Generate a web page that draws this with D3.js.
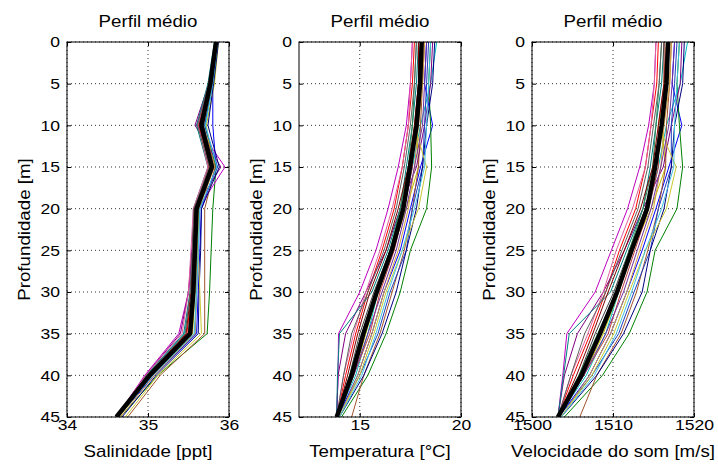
<!DOCTYPE html>
<html>
<head>
<meta charset="utf-8">
<script src="https://cdn.jsdelivr.net/npm/d3@7"></script>
<style>
  body { margin: 0; background: #fff; }
  svg { display: block; }
</style>
</head>
<body>
<div id="chart"></div>
<script>
// Depth levels (m) shared by every profile
const depths = [0, 5, 10, 15, 20, 25, 30, 35, 40, 45];
const depthTicks = [0, 5, 10, 15, 20, 25, 30, 35, 40, 45];

// Mean profiles (thick black line)
const meanSal = [35.84, 35.77, 35.66, 35.79, 35.60, 35.58, 35.56, 35.52, 35.02, 34.61];
const meanTemp = [18.06, 17.98, 17.81, 17.48, 17.15, 16.58, 15.84, 15.18, 14.60, 13.86];
const meanSound = [1516.8, 1516.6, 1516.0, 1515.2, 1514.2, 1512.3, 1510.5, 1508.4, 1506.1, 1503.2];

// one colour per measured profile
const profileColors = [
    "#0000ff", "#008000", "#ff0000", "#00bfbf", "#bf00bf", "#bfbf00", "#404040",
    "#a0522d", "#800080", "#008080", "#1f3fbf", "#2e8b57", "#c04040", "#d2a040",
    "#e060a0", "#000080", "#c8c832", "#800000", "#7030a0", "#40c0e0", "#606060"
];

// Salinity [ppt] per profile
const salProfiles = [
    [35.85, 35.80, 35.80, 35.84, 35.66, 35.64, 35.62, 35.60, 35.08, 34.63],
    [35.86, 35.80, 35.70, 35.84, 35.80, 35.78, 35.76, 35.73, 35.12, 34.66],
    [35.83, 35.75, 35.62, 35.75, 35.58, 35.56, 35.54, 35.48, 35.00, 34.61],
    [35.84, 35.77, 35.64, 35.78, 35.60, 35.57, 35.54, 35.45, 34.98, 34.61],
    [35.84, 35.76, 35.60, 35.95, 35.62, 35.55, 35.50, 35.38, 34.96, 34.61],
    [35.87, 35.82, 35.72, 35.80, 35.62, 35.60, 35.58, 35.55, 35.05, 34.64],
    [35.84, 35.77, 35.66, 35.78, 35.59, 35.57, 35.55, 35.52, 35.02, 34.61],
    [35.85, 35.79, 35.68, 35.83, 35.70, 35.70, 35.70, 35.70, 35.15, 34.75],
    [35.83, 35.75, 35.58, 35.90, 35.58, 35.54, 35.50, 35.40, 34.97, 34.61],
    [35.82, 35.74, 35.60, 35.74, 35.56, 35.55, 35.52, 35.44, 34.98, 34.61],
    [35.86, 35.80, 35.70, 35.86, 35.64, 35.62, 35.60, 35.58, 35.06, 34.62],
    [35.84, 35.76, 35.64, 35.76, 35.58, 35.56, 35.54, 35.50, 35.00, 34.61],
    [35.85, 35.78, 35.66, 35.80, 35.61, 35.59, 35.57, 35.54, 35.04, 34.62],
    [35.86, 35.79, 35.68, 35.82, 35.63, 35.61, 35.60, 35.58, 35.08, 34.66],
    [35.83, 35.75, 35.62, 35.74, 35.56, 35.53, 35.50, 35.42, 34.97, 34.61],
    [35.87, 35.81, 35.74, 35.88, 35.66, 35.65, 35.63, 35.62, 35.10, 34.68],
    [35.85, 35.78, 35.67, 35.80, 35.62, 35.62, 35.64, 35.66, 35.12, 34.72],
    [35.84, 35.76, 35.63, 35.77, 35.57, 35.55, 35.53, 35.47, 34.99, 34.61],
    [35.85, 35.78, 35.68, 35.81, 35.60, 35.58, 35.56, 35.53, 35.03, 34.62],
    [35.86, 35.80, 35.71, 35.85, 35.64, 35.62, 35.60, 35.57, 35.06, 34.63],
    [35.83, 35.75, 35.61, 35.76, 35.57, 35.55, 35.52, 35.46, 34.99, 34.61]
];

// Temperature [°C] per profile
const tempProfiles = [
    [18.3, 18.2, 18.6, 18.0, 17.5, 17.0, 16.2, 15.6, 14.9, 13.9],
    [18.5, 18.4, 18.5, 18.55, 18.3, 17.5, 17.0, 16.3, 15.4, 14.1],
    [17.7, 17.6, 17.4, 17.1, 16.7, 16.1, 15.4, 14.8, 14.3, 13.86],
    [18.8, 18.5, 18.0, 17.6, 17.2, 16.6, 15.9, 15.4, 14.8, 13.86],
    [17.6, 17.5, 17.3, 16.9, 16.4, 15.8, 15.0, 13.95, 13.93, 13.86],
    [18.0, 17.9, 17.8, 17.9, 17.3, 16.6, 15.9, 15.3, 14.7, 13.9],
    [18.1, 18.0, 17.8, 17.5, 17.1, 16.5, 15.7, 15.0, 14.5, 13.86],
    [18.2, 18.1, 18.0, 17.9, 17.6, 17.2, 16.6, 16.0, 15.2, 14.6],
    [18.6, 18.5, 18.2, 17.8, 17.0, 16.3, 15.3, 14.3, 13.93, 13.86],
    [17.9, 17.8, 17.6, 17.3, 17.0, 16.4, 15.6, 14.0, 13.9, 13.86],
    [18.4, 18.3, 18.2, 18.1, 17.6, 17.3, 16.5, 15.9, 15.0, 13.9],
    [17.8, 17.7, 17.6, 17.4, 17.0, 16.5, 15.8, 15.1, 14.5, 13.86],
    [18.0, 17.9, 17.7, 17.6, 17.2, 16.7, 16.0, 15.5, 14.7, 13.9],
    [18.2, 18.1, 17.9, 17.7, 17.4, 16.9, 16.2, 15.6, 14.9, 14.0],
    [17.6, 17.5, 17.4, 17.1, 16.6, 16.0, 15.3, 14.7, 14.2, 13.86],
    [18.7, 18.6, 18.3, 18.1, 17.8, 17.3, 16.8, 16.1, 15.2, 14.0],
    [18.1, 18.0, 17.7, 18.3, 17.9, 17.1, 16.3, 15.7, 15.0, 14.0],
    [17.9, 17.9, 17.7, 17.4, 16.9, 16.3, 15.5, 14.9, 14.4, 13.86],
    [18.3, 18.2, 18.1, 17.7, 17.3, 16.8, 16.1, 15.4, 14.7, 13.9],
    [18.5, 18.4, 18.3, 18.2, 17.7, 17.1, 16.4, 15.8, 15.1, 14.0],
    [17.8, 17.7, 17.5, 17.2, 16.8, 16.2, 15.4, 14.6, 14.2, 13.86]
];

// Sound speed [m/s] per profile
const soundProfiles = [
    [1517.6, 1517.3, 1518.5, 1516.9, 1515.3, 1513.6, 1511.7, 1509.7, 1507.1, 1503.3],
    [1518.2, 1517.9, 1518.2, 1518.6, 1517.9, 1515.2, 1514.2, 1512.0, 1508.7, 1504.0],
    [1515.6, 1515.4, 1514.7, 1514.0, 1512.8, 1510.8, 1509.1, 1507.2, 1505.1, 1503.2],
    [1519.2, 1518.3, 1516.6, 1515.6, 1514.4, 1512.4, 1510.7, 1509.1, 1506.7, 1503.2],
    [1515.3, 1515.1, 1514.4, 1513.3, 1511.8, 1509.8, 1507.8, 1504.3, 1503.8, 1503.2],
    [1516.6, 1516.3, 1516.0, 1516.5, 1514.7, 1512.4, 1510.7, 1508.8, 1506.4, 1503.3],
    [1516.9, 1516.7, 1516.0, 1515.3, 1514.0, 1512.0, 1510.1, 1507.8, 1505.8, 1503.2],
    [1517.2, 1517.0, 1516.6, 1516.5, 1515.6, 1514.3, 1512.9, 1511.0, 1508.0, 1505.9],
    [1518.5, 1518.3, 1517.2, 1516.2, 1513.7, 1511.4, 1508.8, 1505.6, 1504.0, 1503.2],
    [1516.3, 1516.0, 1515.3, 1514.6, 1513.7, 1511.7, 1509.7, 1504.6, 1503.9, 1503.2],
    [1517.9, 1517.6, 1517.2, 1517.2, 1515.6, 1514.6, 1512.6, 1510.7, 1507.4, 1503.3],
    [1516.0, 1515.7, 1515.3, 1514.9, 1513.7, 1512.0, 1510.4, 1508.1, 1505.8, 1503.2],
    [1516.6, 1516.3, 1515.6, 1515.6, 1514.4, 1512.7, 1511.0, 1509.4, 1506.4, 1503.3],
    [1517.2, 1517.0, 1516.3, 1515.9, 1515.0, 1513.3, 1511.7, 1509.7, 1507.1, 1503.6],
    [1515.3, 1515.1, 1514.7, 1514.0, 1512.4, 1510.4, 1508.8, 1506.9, 1504.8, 1503.2],
    [1518.8, 1518.6, 1517.6, 1517.2, 1516.3, 1514.6, 1513.6, 1511.3, 1508.0, 1503.6],
    [1516.9, 1516.7, 1515.6, 1517.8, 1516.6, 1514.0, 1512.0, 1510.1, 1507.4, 1503.6],
    [1516.3, 1516.3, 1515.6, 1514.9, 1513.4, 1511.4, 1509.4, 1507.5, 1505.5, 1503.2],
    [1517.6, 1517.3, 1516.9, 1515.9, 1514.7, 1513.0, 1511.3, 1509.1, 1506.4, 1503.3],
    [1518.2, 1517.9, 1517.6, 1517.5, 1516.0, 1514.0, 1512.3, 1510.4, 1507.7, 1503.6],
    [1516.0, 1515.7, 1515.0, 1514.3, 1513.1, 1511.1, 1509.1, 1506.5, 1504.8, 1503.2]
];

// x ticks for each panel
const salTicks = [34, 35, 36];
const tempTicks = [15, 20];
const soundTicks = [1500, 1510, 1520];

const titleText = "Perfil médio";
const yLabelText = "Profundidade [m]";

// Layout
const W = 718, H = 466;
const plotTop = 42, plotBottom = 417, plotWidth = 162;
const stretch = 1.17; // text in the original is a bit wide
const fontFamily = "Arial, 'Liberation Sans', Helvetica, sans-serif";

const panels = [
    { left: 67, domain: [34, 36], ticks: salTicks, profiles: salProfiles, mean: meanSal, xLabel: "Salinidade [ppt]" },
    { left: 299, domain: [12, 20], ticks: tempTicks, profiles: tempProfiles, mean: meanTemp, xLabel: "Temperatura [°C]" },
    { left: 532, domain: [1500, 1520], ticks: soundTicks, profiles: soundProfiles, mean: meanSound, xLabel: "Velocidade do som [m/s]" }
];

const svg = d3.select("#chart")
    .append("svg")
    .attr("width", W)
    .attr("height", H)
    .style("background", "#fff");

const y = d3.scaleLinear().domain([0, 45]).range([plotTop, plotBottom]);

// helper for text stretched horizontally like the original
function addText(parent, x, yPos, txt, size, rotate) {
    return parent.append("g")
        .attr("transform", `translate(${x},${yPos}) rotate(${rotate || 0}) scale(${stretch},1)`)
        .append("text")
        .attr("text-anchor", "middle")
        .attr("font-family", fontFamily)
        .attr("font-size", size)
        .attr("fill", "#000")
        .text(txt);
}

function styleAxis(g, hideLabels) {
    g.select(".domain").remove();
    g.selectAll(".tick line").attr("stroke", "#000");
    g.selectAll(".tick text")
        .attr("font-family", fontFamily)
        .attr("font-size", 15)
        .attr("fill", "#000");
    if (hideLabels) g.selectAll(".tick text").remove();
}

const plainFormat = d => String(d);

panels.forEach(p => {
    const x = d3.scaleLinear().domain(p.domain).range([p.left, p.left + plotWidth]);
    const g = svg.append("g");

    // dotted grid
    g.selectAll(".hgrid")
        .data(depthTicks)
        .enter()
        .append("line")
        .attr("x1", p.left).attr("x2", p.left + plotWidth)
        .attr("y1", d => y(d)).attr("y2", d => y(d))
        .attr("stroke", "#333")
        .attr("stroke-width", 1)
        .attr("stroke-dasharray", "1,3");

    g.selectAll(".vgrid")
        .data(p.ticks)
        .enter()
        .append("line")
        .attr("x1", d => x(d)).attr("x2", d => x(d))
        .attr("y1", plotTop).attr("y2", plotBottom)
        .attr("stroke", "#333")
        .attr("stroke-width", 1)
        .attr("stroke-dasharray", "1,3");

    // clip so nothing spills out of the box
    const clipId = "clip" + p.left;
    svg.append("clipPath").attr("id", clipId)
        .append("rect")
        .attr("x", p.left).attr("y", plotTop)
        .attr("width", plotWidth).attr("height", plotBottom - plotTop);

    const line = d3.line()
        .x(d => x(d[0]))
        .y(d => y(d[1]));

    const lines = g.append("g").attr("clip-path", `url(#${clipId})`);

    lines.selectAll(".profile")
        .data(p.profiles)
        .enter()
        .append("path")
        .attr("class", "profile")
        .attr("d", vals => line(vals.map((v, i) => [v, depths[i]])))
        .attr("fill", "none")
        .attr("stroke", (d, i) => profileColors[i % profileColors.length])
        .attr("stroke-width", 1);

    lines.append("path")
        .attr("d", line(p.mean.map((v, i) => [v, depths[i]])))
        .attr("fill", "none")
        .attr("stroke", "#000")
        .attr("stroke-width", 4.5)
        .attr("stroke-linejoin", "round");

    // axes, MATLAB-like inward ticks
    const left = g.append("g")
        .attr("transform", `translate(${p.left},0)`)
        .call(d3.axisLeft(y).tickValues(depthTicks).tickFormat(plainFormat)
            .tickSizeInner(-4).tickSizeOuter(0).tickPadding(6));
    styleAxis(left, false);
    left.selectAll(".tick text").attr("transform", `scale(${stretch},1)`);

    const right = g.append("g")
        .attr("transform", `translate(${p.left + plotWidth},0)`)
        .call(d3.axisRight(y).tickValues(depthTicks).tickSizeInner(-4).tickSizeOuter(0));
    styleAxis(right, true);

    const bottom = g.append("g")
        .attr("transform", `translate(0,${plotBottom})`)
        .call(d3.axisBottom(x).tickValues(p.ticks).tickFormat(plainFormat)
            .tickSizeInner(-4).tickSizeOuter(0).tickPadding(2));
    styleAxis(bottom, false);
    bottom.selectAll(".tick text").attr("transform", `scale(${stretch},1)`);

    const top = g.append("g")
        .attr("transform", `translate(0,${plotTop})`)
        .call(d3.axisTop(x).tickValues(p.ticks).tickSizeInner(-4).tickSizeOuter(0));
    styleAxis(top, true);

    // box
    g.append("rect")
        .attr("x", p.left).attr("y", plotTop)
        .attr("width", plotWidth).attr("height", plotBottom - plotTop)
        .attr("fill", "none")
        .attr("stroke", "#000")
        .attr("stroke-width", 1);

    // title and labels
    const cx = p.left + plotWidth / 2;
    addText(svg, cx, 27, titleText, 16);
    addText(svg, cx, 457, p.xLabel, 16);
    addText(svg, p.left - 37, (plotTop + plotBottom) / 2, yLabelText, 16, -90);
});
</script>
</body>
</html>
